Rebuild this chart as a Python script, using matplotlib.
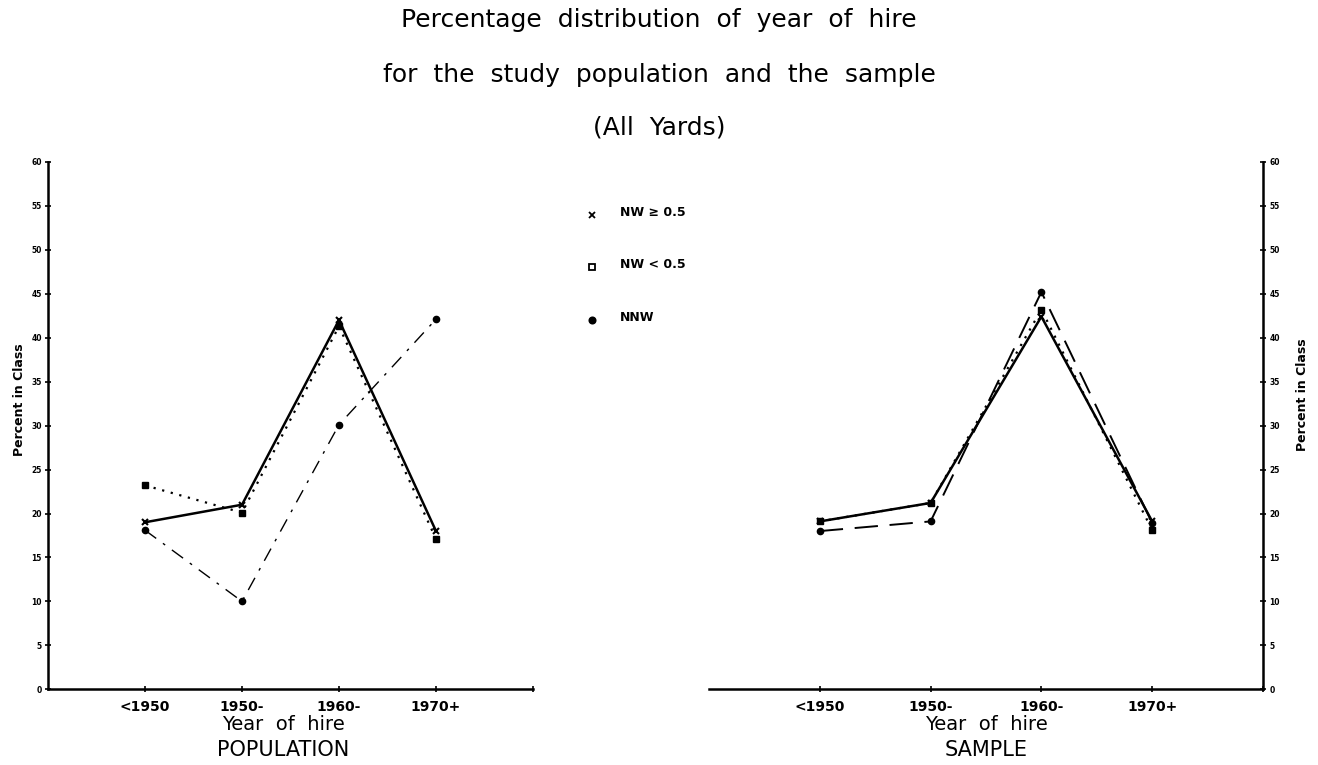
import matplotlib.pyplot as plt

# Year-of-hire classes and percent in class
categories = ['<1950', '1950-', '1960-', '1970+']
y_ticks = list(range(0, 61, 5))

pop_nw_hi = [19.0, 21.0, 42.0, 18.0]     # NW >= 0.5
pop_nw_lo = [23.2, 20.1, 41.3, 17.1]     # NW < 0.5
pop_nnw = [18.1, 10.0, 30.1, 42.1]       # NNW

samp_nw_hi = [19.1, 21.2, 42.4, 19.1]
samp_nw_lo = [19.1, 21.2, 43.2, 18.1]
samp_nnw = [18.0, 19.1, 45.2, 18.9]

legend_labels = ['NW \u2265 0.5', 'NW < 0.5', 'NNW']

xpos = [1, 2, 3, 4]

W, H = 1318, 765
fig = plt.figure(figsize=(W / 100, H / 100), dpi=100)

ax1 = fig.add_axes([48 / W, 1 - 689.3 / H, 485 / W, 527.4 / H])
ax2 = fig.add_axes([709 / W, 1 - 689.3 / H, 554 / W, 527.4 / H])


def style_axis(ax, side):
    ax.set_xlim(0, 5)
    ax.set_ylim(0, 60)
    for s in ['top', 'left', 'right']:
        ax.spines[s].set_visible(False)
    ax.spines[side].set_visible(True)
    ax.spines['bottom'].set_linewidth(1.8)
    ax.spines[side].set_linewidth(1.8)
    ax.set_xticks([1, 2, 3, 4, 5])
    ax.set_xticklabels(categories + [''], fontsize=10, fontweight='bold')
    ax.set_yticks(y_ticks)
    ax.set_yticklabels([str(v) for v in y_ticks], fontsize=5.5, fontweight='bold')
    ax.tick_params(axis='both', direction='inout', length=5, width=1.2)
    ax.tick_params(axis='x', pad=5)
    ax.tick_params(axis='y', pad=2)
    if side == 'right':
        ax.yaxis.tick_right()
        ax.yaxis.set_label_position('right')


style_axis(ax1, 'left')
style_axis(ax2, 'right')

# population panel
ax1.plot(xpos, pop_nw_hi, color='black', lw=1.8, marker='x', ms=5, mew=1.5)
ax1.plot(xpos, pop_nw_lo, color='black', lw=1.6, ls=(0, (1, 3)), marker='s', ms=4.5)
ax1.plot(xpos, pop_nnw, color='black', lw=1.0, ls=(0, (10, 6, 2, 6)), marker='o', ms=4.5)

# sample panel
ax2.plot(xpos, samp_nw_hi, color='black', lw=1.8, marker='x', ms=5, mew=1.5)
ax2.plot(xpos, samp_nw_lo, color='black', lw=1.6, ls=(0, (1, 3)), marker='s', ms=4.5)
ax2.plot(xpos, samp_nnw, color='black', lw=1.4, ls=(0, (12, 6)), marker='o', ms=4.5)

# axis titles placed by hand (wide plotter lettering)
for xc in [283, 986]:
    fig.text(xc / W, 1 - 724 / H, 'Year  of  hire', fontsize=14, ha='center', va='center')
fig.text(283 / W, 1 - 750 / H, 'POPULATION', fontsize=15, ha='center', va='center')
fig.text(986 / W, 1 - 750 / H, 'SAMPLE', fontsize=15, ha='center', va='center')

fig.text(20 / W, 1 - 400 / H, 'Percent in Class', fontsize=9, fontweight='bold',
         rotation=90, ha='center', va='center')
fig.text(1303 / W, 1 - 395 / H, 'Percent in Class', fontsize=9, fontweight='bold',
         rotation=90, ha='center', va='center')

# titles
fig.text(0.5, 1 - 20 / H, 'Percentage  distribution  of  year  of  hire', fontsize=18,
         ha='center', va='center')
fig.text(0.5, 1 - 75 / H, 'for  the  study  population  and  the  sample', fontsize=18,
         ha='center', va='center')
fig.text(0.5, 1 - 128 / H, '(All  Yards)', fontsize=18, ha='center', va='center')

# legend drawn by hand as in the original
leg_marker = ['x', 's', 'o']
leg_y = [215, 267, 320]
for m, yy, lab in zip(leg_marker, leg_y, legend_labels):
    fig.lines.append(plt.Line2D([592 / W], [1 - yy / H], transform=fig.transFigure, marker=m,
                                color='black', ms=4.5, mew=1.3,
                                mfc='white' if m == 's' else 'black', ls='none'))
    fig.text(620 / W, 1 - (yy - 3) / H, lab, fontsize=9, fontweight='bold', ha='left', va='center')

plt.savefig('out.png', dpi=100)
